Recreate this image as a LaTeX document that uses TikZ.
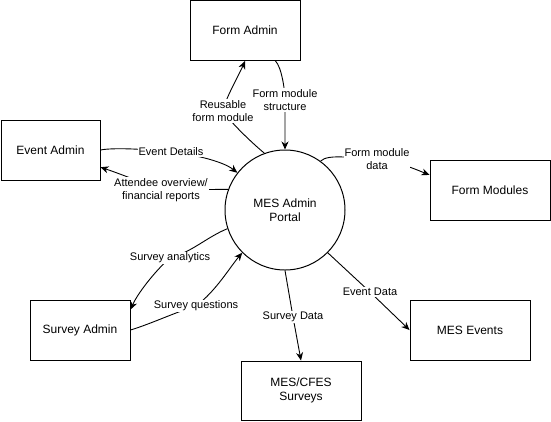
\documentclass[tikz,border=0pt]{standalone}
\usepackage{fontspec}
\setmainfont{Liberation Sans}
\usetikzlibrary{arrows.meta}
\tikzset{
  box/.style={draw, line width=1pt, minimum width=120pt, minimum height=60pt, align=center, font=\fontsize{12}{14}\selectfont, inner sep=2pt},
  proc/.style={draw, circle, line width=1pt, minimum size=120pt, align=center, font=\fontsize{12}{14}\selectfont},
  lbl/.style={fill=white, align=center, font=\fontsize{11}{13}\selectfont, inner sep=1pt},
  flow/.style={line width=0.9pt, -{Stealth[length=8pt,width=7pt,inset=2.5pt]}},
}
\begin{document}
\begin{tikzpicture}[x=1pt,y=-1pt]
\useasboundingbox (0,0) rectangle (551,421);
% nodes
\node[box, minimum width=110pt] (fa) at (245,30.5) {Form Admin};
\node[box, minimum width=99pt] (ea) at (50.5,150) {Event Admin};
\node[box] (fm) at (490,190) {Form Modules};
\node[box, minimum width=100pt] (sa) at (80,330) {Survey Admin};
\node[box, minimum height=59pt] (msv) at (301,390.5) {MES/CFES\\Surveys};
\node[box] (me) at (470,330) {MES Events};
\node[proc] (portal) at (285,210) {MES Admin\\Portal};
% label positions
\coordinate (c1) at (223,111);
\coordinate (c2) at (285,100);
\coordinate (c3) at (171,152);
\coordinate (c4) at (161,190);
\coordinate (c5) at (377,159);
\coordinate (c6) at (170,258);
\coordinate (c7) at (196,306);
\coordinate (c8) at (293,317);
\coordinate (c9) at (370,292);
% connectors
\draw[flow] (portal.110) .. controls +(-12,-10) and +(8,12) .. (c1) .. controls +(2,-12) and +(-6,14) .. (fa.south);
\draw[flow] (fa.-45) .. controls +(6,6) and +(0,-10) .. (c2) -- (portal.north);
\draw[flow] (ea.east) .. controls +(15,-3) and +(-15,-2) .. (c3) .. controls +(20,2) and +(-15,-12) .. (portal.142);
\draw[flow] (portal.160.5) -- (c4) .. controls +(-25,-10) and +(15,5) .. (ea.-19);
\draw[flow] (portal.54) .. controls +(8,-8) and +(-20,0) .. (c5) .. controls +(20,2) and +(-10,-4) .. (fm.166);
\draw[flow] (portal.198) .. controls +(-20,8) and +(22,-6) .. (c6) .. controls +(-12,10) and +(8,-18) .. (sa.22);
\draw[flow] (sa.east) .. controls +(20,-6) and +(-20,6) .. (c7) .. controls +(20,-15) and +(-12,14) .. (portal.225);
\draw[flow] (portal.south) -- (c8) -- (msv.north);
\draw[flow] (portal.-45) -- (c9) -- (me.west);
% labels
\node[lbl] (l1) at (c1) {Reusable\\form module};
\node[lbl] (l2) at (c2) {Form module\\structure};
\node[lbl] (l3) at (c3) {Event Details};
\node[lbl] (l4) at (c4) {Attendee overview/\\financial reports};
\node[lbl] (l5) at (c5) {Form module\\data};
\node[lbl] (l6) at (c6) {Survey analytics};
\node[lbl] (l7) at (c7) {Survey questions};
\node[lbl] (l8) at (c8) {Survey Data};
\node[lbl] (l9) at (c9) {Event Data};
\end{tikzpicture}
\end{document}
